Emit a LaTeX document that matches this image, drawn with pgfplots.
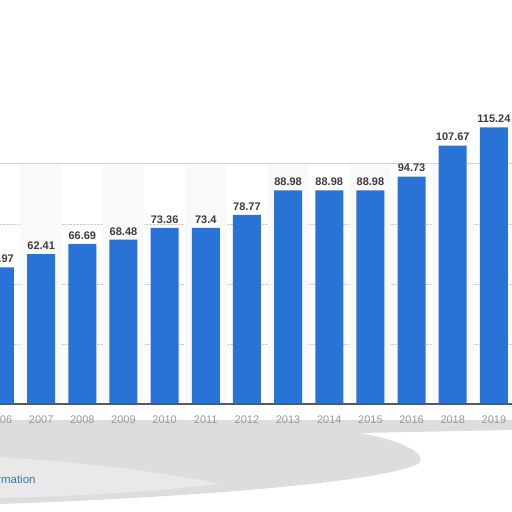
\documentclass[border=0pt]{standalone}
\usepackage{pgfplots}
\pgfplotsset{compat=1.18}
\usepackage{fontspec}
\setmainfont{Liberation Sans}
\definecolor{barblue}{HTML}{2A73D6}
\definecolor{lbl}{HTML}{3C3C3C}
\definecolor{linkblue}{HTML}{3A78B8}
\begin{document}
\begin{tikzpicture}[x=1pt,y=1pt]
\useasboundingbox (0,0) rectangle (512,512);
\fill[gray!27] (0,92) -- (512,92) -- (512,82) -- (360,79) .. controls (400,72) and (430,58) .. (418,48) .. controls (380,30) and (200,15) .. (0,8) -- cycle;
\fill[gray!17] (0,55) .. controls (80,50) and (150,42) .. (220,28) .. controls (150,20) and (80,16) .. (0,14) -- cycle;
\node[anchor=west, text=linkblue, font=\fontsize{11.5}{13}\selectfont, inner sep=0pt] at (-3,33) {rmation};
\begin{axis}[
  at={(0pt,108pt)}, anchor=south west,
  scale only axis, width=512pt, height=288pt,
  xmin=0, xmax=12.44, ymin=0, ymax=120,
  axis line style={draw=none},
  tick style={draw=none},
  ytick={25,50,75}, yticklabels={},
  ymajorgrids, major grid style={gray!40, densely dotted},
  xtick={0,...,12},
  xticklabels={2006,2007,2008,2009,2010,2011,2012,2013,2014,2015,2016,2018,2019},
  xticklabel style={font=\fontsize{11}{13}\selectfont, text=gray!80, yshift=-4pt},
  ybar, bar shift=0pt,
]
\addplot[fill=gray!5, draw=none, bar width=1, bar shift=0pt]
  coordinates {(1,100) (3,100) (5,100) (7,100) (9,100) (11,100)};
\draw[gray!35, line width=1pt] (axis cs:0,100) -- (axis cs:12.44,100);
\addplot[fill=barblue, draw=none, bar width=0.68, bar shift=0pt,
  point meta=explicit symbolic,
  nodes near coords,
  nodes near coords style={font=\fontsize{11}{13}\bfseries\selectfont, text=lbl, yshift=1pt}]
  coordinates {
  (0,56.97) [56.97]
  (1,62.41) [62.41]
  (2,66.69) [66.69]
  (3,68.48) [68.48]
  (4,73.36) [73.36]
  (5,73.4) [73.4]
  (6,78.77) [78.77]
  (7,88.98) [88.98]
  (8,88.98) [88.98]
  (9,88.98) [88.98]
  (10,94.73) [94.73]
  (11,107.67) [107.67]
  (12,115.24) [115.24]
  };
\draw[gray!70!black, line width=1.5pt] (axis cs:0,0) -- (axis cs:12.44,0);
\end{axis}
\end{tikzpicture}
\end{document}
